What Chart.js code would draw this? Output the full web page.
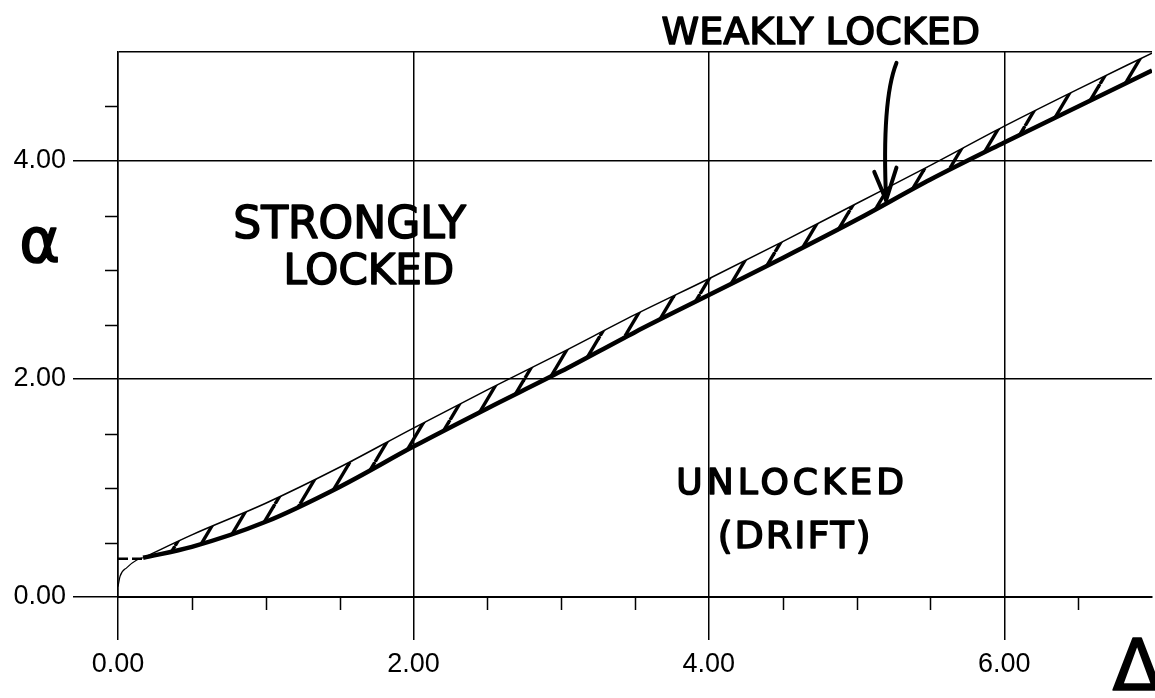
<!DOCTYPE html>
<html><head><meta charset="utf-8">
<script src="https://cdn.jsdelivr.net/npm/chart.js@4.4.1/dist/chart.umd.min.js"></script>
<style>html,body{margin:0;padding:0;background:#fff;overflow:hidden}#wrap{width:1155px;height:698px}</style>
</head><body><div id="wrap"><canvas id="c" width="1155" height="698"></canvas></div>
<script>
// ---- data ----
const deltaValues  = [0.17, 0.5, 1.0, 1.5, 2.0, 2.5, 3.0, 3.5, 4.0, 4.5, 5.0, 5.5, 6.0, 6.5, 7.0];
const upperAlpha   = [0.36, 0.57, 0.86, 1.19, 1.55, 1.90, 2.24, 2.59, 2.92, 3.26, 3.61, 3.96, 4.32, 4.66, 4.99];
const lowerAlpha   = [0.36, 0.46, 0.69, 1.01, 1.38, 1.73, 2.07, 2.43, 2.77, 3.11, 3.46, 3.83, 4.17, 4.50, 4.83];
const onsetDelta   = [0.0, 0.014, 0.06, 0.127, 0.17];
const onsetAlpha   = [0.095, 0.19, 0.27, 0.34, 0.36];
const plateauDelta = [0.0, 0.17];
const plateauAlpha = [0.35, 0.35];
const xTickValues  = [0, 2, 4, 6];
const yTickValues  = [0, 2, 4, 5];
const xMinorTicks  = [0.5, 1, 1.5, 2.5, 3, 3.5, 4.5, 5, 5.5, 6.5];
const yMinorTicks  = [0.5, 1, 1.5, 2.5, 3, 3.5, 4.5];

// region labels (anchored in data coordinates)
const regionLabels = [
  {text: 'STRONGLY', x: 0.78, y: 3.29, size: 44, spacing: 0},
  {text: 'LOCKED',   x: 1.12, y: 2.87, size: 42, spacing: 0},
  {text: 'WEAKLY LOCKED', x: 3.68, y: 5.07, size: 38, spacing: 0},
  {text: 'UNLOCKED', x: 3.78, y: 0.945, size: 36, spacing: 4},
  {text: '(DRIFT)',  x: 4.06, y: 0.45, size: 38, spacing: 2},
  {text: 'α', x: -0.53, y: 3.07, size: 62, spacing: 0, align: 'center'},
  {text: 'Δ', x: 6.90, y: -0.85, size: 72, spacing: 0, align: 'center'}
];
const arrowCurve = [[5.27, 4.90], [5.17, 4.56], [5.20, 3.64]];
const arrowWings = [[5.12, 3.90], [5.27, 3.94]];

const pts = (xs, ys) => xs.map((x, i) => ({x, y: ys[i]}));

function makeHatch() {
  const w = 25, h = 42, c = document.createElement('canvas');
  c.width = w; c.height = h;
  const g = c.getContext('2d');
  g.strokeStyle = '#000'; g.lineWidth = 3.4;
  for (const dx of [-w, 0, w]) { g.beginPath(); g.moveTo(dx, h); g.lineTo(dx + w, 0); g.stroke(); }
  return g.createPattern(c, 'repeat');
}

const tickFont = {family: "'Liberation Sans', Arial, sans-serif", size: 27};

const decorPlugin = {
  id: 'decor',
  afterDraw(chart) {
    const ctx = chart.ctx, xs = chart.scales.x, ys = chart.scales.y;
    ctx.save();
    ctx.strokeStyle = '#000'; ctx.lineWidth = 1.5;
    ctx.beginPath();
    xMinorTicks.forEach(v => { const p = Math.round(xs.getPixelForValue(v)) + 0.5; ctx.moveTo(p, ys.bottom); ctx.lineTo(p, ys.bottom + 13); });
    yMinorTicks.forEach(v => { const p = Math.round(ys.getPixelForValue(v)) + 0.5; ctx.moveTo(xs.left - 13, p); ctx.lineTo(xs.left, p); });
    ctx.stroke();

    ctx.fillStyle = '#000';
    ctx.lineWidth = 1.6; ctx.lineJoin = 'round';
    regionLabels.forEach(l => {
      ctx.font = l.size + "px 'DejaVu Sans', sans-serif";
      ctx.letterSpacing = l.spacing + 'px';
      ctx.textAlign = l.align || 'left';
      ctx.textBaseline = 'alphabetic';
      const px = xs.getPixelForValue(l.x), py = ys.getPixelForValue(l.y);
      ctx.fillText(l.text, px, py);
      ctx.strokeText(l.text, px, py);
    });
    ctx.letterSpacing = '0px';

    const P = p => [xs.getPixelForValue(p[0]), ys.getPixelForValue(p[1])];
    const [a, b, c] = arrowCurve.map(P);
    ctx.lineWidth = 4; ctx.lineCap = 'round'; ctx.lineJoin = 'round';
    ctx.beginPath(); ctx.moveTo(a[0], a[1]); ctx.quadraticCurveTo(b[0], b[1], c[0], c[1]); ctx.stroke();
    ctx.beginPath();
    arrowWings.map(P).forEach(w => { ctx.moveTo(w[0], w[1]); ctx.lineTo(c[0], c[1]); });
    ctx.stroke();
    ctx.restore();
  }
};

new Chart(document.getElementById('c'), {
  type: 'line',
  data: {
    datasets: [
      {data: pts(onsetDelta, onsetAlpha), borderColor: '#000', borderWidth: 1.2, pointRadius: 0, cubicInterpolationMode: 'monotone', fill: false},
      {data: pts(plateauDelta, plateauAlpha), borderColor: '#000', borderWidth: 2.5, borderDash: [10, 4], pointRadius: 0, fill: false},
      {data: pts(deltaValues, upperAlpha), borderColor: '#000', borderWidth: 1.5, pointRadius: 0, cubicInterpolationMode: 'monotone', fill: false},
      {data: pts(deltaValues, lowerAlpha), borderColor: '#000', borderWidth: 4.5, pointRadius: 0, cubicInterpolationMode: 'monotone',
       fill: '-1', backgroundColor: makeHatch()}
    ]
  },
  options: {
    responsive: false, animation: false,
    layout: {padding: {top: 52, right: 3, left: 0, bottom: 0}},
    plugins: {legend: {display: false}, tooltip: {enabled: false}},
    scales: {
      x: {
        type: 'linear', min: 0, max: 7,
        afterBuildTicks: s => { s.ticks = xTickValues.map(v => ({value: v})); },
        afterFit: s => { s.height = 101; },
        ticks: {callback: v => Number(v).toFixed(2), font: tickFont, color: '#000', padding: 8, maxRotation: 0, autoSkip: false},
        grid: {color: '#000', lineWidth: 1.5, tickLength: 43, tickWidth: 1.5, tickColor: '#000'},
        border: {display: true, color: '#000', width: 2}
      },
      y: {
        type: 'linear', min: 0, max: 5,
        afterBuildTicks: s => { s.ticks = yTickValues.map(v => ({value: v})); },
        afterFit: s => { s.width = 118; },
        ticks: {callback: v => (v === 5 ? '' : Number(v).toFixed(2)), font: tickFont, color: '#000', padding: 7, autoSkip: false},
        grid: {color: '#000', lineWidth: 1.5, tickLength: 45, tickWidth: 1.5,
               tickColor: c => (c.tick && c.tick.value === 5 ? 'rgba(0,0,0,0)' : '#000')},
        border: {display: true, color: '#000', width: 1.5}
      }
    }
  },
  plugins: [decorPlugin]
});
</script></body></html>
